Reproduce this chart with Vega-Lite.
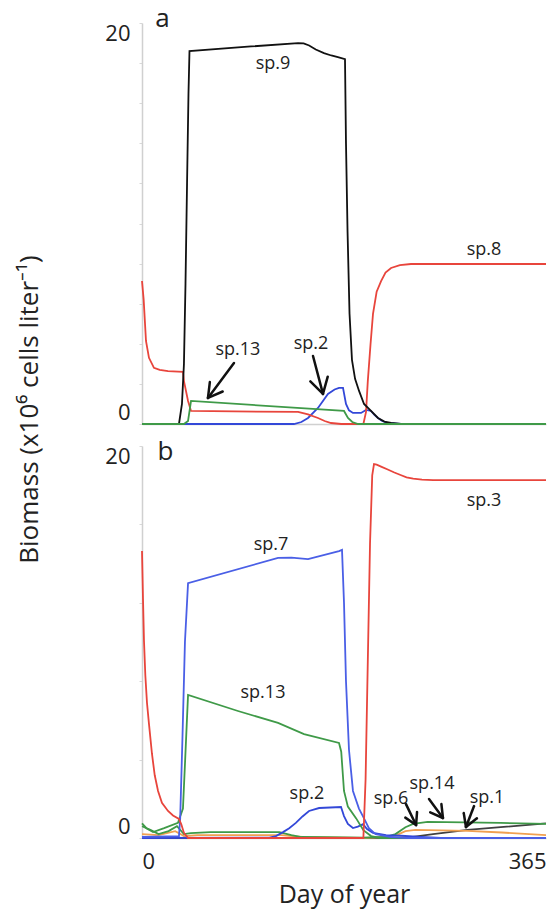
{
  "$schema": "https://vega.github.io/schema/vega-lite/v6.json",
  "padding": {"left": 16, "top": 5, "right": 13, "bottom": 4},
  "bounds": "flush",
  "config": {
    "font": "Open Sans",
    "view": {"stroke": null},
    "axis": {"grid": false, "domainColor": "#d0d0d0", "domainWidth": 1.5, "labelColor": "#222222", "titleColor": "#222222", "titleFontWeight": "normal", "tickColor": "#d9d9d9"},
    "text": {"font": "Open Sans", "color": "#222222"}
  },
  "datasets": {
    "curvesA": [
      {"sp":"sp.2","day":0,"v":0},{"sp":"sp.2","day":137.3,"v":0},{"sp":"sp.2","day":144,"v":0.1},{"sp":"sp.2","day":150,"v":0.3},{"sp":"sp.2","day":159,"v":0.8},{"sp":"sp.2","day":168,"v":1.5},{"sp":"sp.2","day":174,"v":1.72},{"sp":"sp.2","day":178,"v":1.8},{"sp":"sp.2","day":181.6,"v":1.8},{"sp":"sp.2","day":184.3,"v":1.0},{"sp":"sp.2","day":187,"v":0.68},{"sp":"sp.2","day":190.6,"v":0.55},{"sp":"sp.2","day":197.9,"v":0.55},{"sp":"sp.2","day":202.4,"v":0.7},{"sp":"sp.2","day":206.9,"v":0.65},{"sp":"sp.2","day":210,"v":0.45},{"sp":"sp.2","day":213.2,"v":0.3},{"sp":"sp.2","day":217,"v":0.15},{"sp":"sp.2","day":222.3,"v":0.05},{"sp":"sp.2","day":234,"v":0},{"sp":"sp.2","day":365,"v":0},
      {"sp":"sp.8","day":0,"v":7.13},{"sp":"sp.8","day":1.5,"v":6.2},{"sp":"sp.8","day":3.6,"v":4.14},{"sp":"sp.8","day":6.3,"v":3.3},{"sp":"sp.8","day":10.8,"v":2.8},{"sp":"sp.8","day":16,"v":2.7},{"sp":"sp.8","day":23.5,"v":2.64},{"sp":"sp.8","day":37,"v":2.6},{"sp":"sp.8","day":37.9,"v":2.14},{"sp":"sp.8","day":41.6,"v":1.15},{"sp":"sp.8","day":44.3,"v":0.65},{"sp":"sp.8","day":141,"v":0.6},{"sp":"sp.8","day":150,"v":0.48},{"sp":"sp.8","day":159,"v":0.3},{"sp":"sp.8","day":165,"v":0.15},{"sp":"sp.8","day":170.8,"v":0.05},{"sp":"sp.8","day":180,"v":0},{"sp":"sp.8","day":200,"v":0},{"sp":"sp.8","day":202.4,"v":0.6},{"sp":"sp.8","day":204,"v":2.14},{"sp":"sp.8","day":206.5,"v":4.0},{"sp":"sp.8","day":208.7,"v":5.49},{"sp":"sp.8","day":212,"v":6.6},{"sp":"sp.8","day":216,"v":7.13},{"sp":"sp.8","day":220,"v":7.55},{"sp":"sp.8","day":225,"v":7.78},{"sp":"sp.8","day":233,"v":7.92},{"sp":"sp.8","day":243,"v":7.98},{"sp":"sp.8","day":365,"v":7.98},
      {"sp":"sp.9","day":0,"v":0},{"sp":"sp.9","day":33.4,"v":0},{"sp":"sp.9","day":36.1,"v":1.0},{"sp":"sp.9","day":37.9,"v":3.0},{"sp":"sp.9","day":39.3,"v":7},{"sp":"sp.9","day":40.7,"v":12},{"sp":"sp.9","day":42,"v":16.5},{"sp":"sp.9","day":42.9,"v":18.6},{"sp":"sp.9","day":98.5,"v":18.83},{"sp":"sp.9","day":141,"v":19.0},{"sp":"sp.9","day":146,"v":18.98},{"sp":"sp.9","day":151,"v":18.88},{"sp":"sp.9","day":157,"v":18.68},{"sp":"sp.9","day":164.4,"v":18.5},{"sp":"sp.9","day":171,"v":18.38},{"sp":"sp.9","day":177,"v":18.3},{"sp":"sp.9","day":183.4,"v":18.2},{"sp":"sp.9","day":184.3,"v":14},{"sp":"sp.9","day":185.7,"v":9.6},{"sp":"sp.9","day":187.5,"v":5.5},{"sp":"sp.9","day":189.7,"v":3.2},{"sp":"sp.9","day":192.5,"v":2.25},{"sp":"sp.9","day":196.1,"v":1.65},{"sp":"sp.9","day":200.6,"v":1.0},{"sp":"sp.9","day":206.9,"v":0.65},{"sp":"sp.9","day":213.2,"v":0.3},{"sp":"sp.9","day":219,"v":0.12},{"sp":"sp.9","day":225,"v":0.05},{"sp":"sp.9","day":234,"v":0},{"sp":"sp.9","day":365,"v":0},
      {"sp":"sp.13","day":0,"v":0},{"sp":"sp.13","day":37.9,"v":0},{"sp":"sp.13","day":41.6,"v":0.15},{"sp":"sp.13","day":44.3,"v":1.15},{"sp":"sp.13","day":182.5,"v":0.65},{"sp":"sp.13","day":186.1,"v":0.3},{"sp":"sp.13","day":190,"v":0.1},{"sp":"sp.13","day":195.2,"v":0},{"sp":"sp.13","day":365,"v":0}
    ],
    "curvesB": [
      {"sp":"sp.1","day":0,"v":0},{"sp":"sp.1","day":225,"v":0},{"sp":"sp.1","day":243,"v":0.05},{"sp":"sp.1","day":263,"v":0.2},{"sp":"sp.1","day":294,"v":0.41},{"sp":"sp.1","day":324,"v":0.55},{"sp":"sp.1","day":365,"v":0.75},
      {"sp":"sp.6","day":0,"v":0.2},{"sp":"sp.6","day":15,"v":0.15},{"sp":"sp.6","day":30,"v":0.35},{"sp":"sp.6","day":38,"v":0.1},{"sp":"sp.6","day":50,"v":0.15},{"sp":"sp.6","day":126,"v":0.15},{"sp":"sp.6","day":145,"v":0.05},{"sp":"sp.6","day":200,"v":0},{"sp":"sp.6","day":220,"v":0.05},{"sp":"sp.6","day":230,"v":0.15},{"sp":"sp.6","day":238,"v":0.35},{"sp":"sp.6","day":247,"v":0.41},{"sp":"sp.6","day":294,"v":0.36},{"sp":"sp.6","day":325,"v":0.28},{"sp":"sp.6","day":365,"v":0.15},
      {"sp":"sp.14","day":0,"v":0.6},{"sp":"sp.14","day":8,"v":0.4},{"sp":"sp.14","day":15,"v":0.2},{"sp":"sp.14","day":24,"v":0.35},{"sp":"sp.14","day":31.6,"v":0.6},{"sp":"sp.14","day":37.9,"v":0.2},{"sp":"sp.14","day":44,"v":0.25},{"sp":"sp.14","day":62,"v":0.3},{"sp":"sp.14","day":124,"v":0.3},{"sp":"sp.14","day":135,"v":0.15},{"sp":"sp.14","day":144,"v":0.05},{"sp":"sp.14","day":200,"v":0.02},{"sp":"sp.14","day":220,"v":0.05},{"sp":"sp.14","day":229,"v":0.2},{"sp":"sp.14","day":238,"v":0.55},{"sp":"sp.14","day":245,"v":0.72},{"sp":"sp.14","day":258,"v":0.82},{"sp":"sp.14","day":324,"v":0.77},{"sp":"sp.14","day":365,"v":0.72},
      {"sp":"sp.2","day":0,"v":0},{"sp":"sp.2","day":115,"v":0.02},{"sp":"sp.2","day":121,"v":0.1},{"sp":"sp.2","day":127.4,"v":0.3},{"sp":"sp.2","day":133,"v":0.5},{"sp":"sp.2","day":139,"v":0.77},{"sp":"sp.2","day":145,"v":1.1},{"sp":"sp.2","day":150.9,"v":1.38},{"sp":"sp.2","day":160,"v":1.53},{"sp":"sp.2","day":179.8,"v":1.58},{"sp":"sp.2","day":182.5,"v":1.12},{"sp":"sp.2","day":186,"v":0.72},{"sp":"sp.2","day":190.6,"v":0.51},{"sp":"sp.2","day":195,"v":0.58},{"sp":"sp.2","day":199.7,"v":0.71},{"sp":"sp.2","day":203.3,"v":0.46},{"sp":"sp.2","day":208.7,"v":0.26},{"sp":"sp.2","day":220.5,"v":0.15},{"sp":"sp.2","day":234,"v":0.12},{"sp":"sp.2","day":252,"v":0.05},{"sp":"sp.2","day":270,"v":0},{"sp":"sp.2","day":365,"v":0},
      {"sp":"sp.13","day":0,"v":0.75},{"sp":"sp.13","day":4,"v":0.5},{"sp":"sp.13","day":10,"v":0.3},{"sp":"sp.13","day":20,"v":0.5},{"sp":"sp.13","day":32.5,"v":0.77},{"sp":"sp.13","day":37,"v":1.5},{"sp":"sp.13","day":39,"v":4},{"sp":"sp.13","day":41.6,"v":7.3},{"sp":"sp.13","day":86.7,"v":6.48},{"sp":"sp.13","day":122.9,"v":5.87},{"sp":"sp.13","day":146.4,"v":5.3},{"sp":"sp.13","day":178,"v":4.85},{"sp":"sp.13","day":180,"v":4.4},{"sp":"sp.13","day":182.5,"v":2.4},{"sp":"sp.13","day":186,"v":1.6},{"sp":"sp.13","day":193.5,"v":1.0},{"sp":"sp.13","day":200,"v":0.4},{"sp":"sp.13","day":207,"v":0.1},{"sp":"sp.13","day":215,"v":0},{"sp":"sp.13","day":365,"v":0},
      {"sp":"sp.7","day":0,"v":0.05},{"sp":"sp.7","day":33.4,"v":0.1},{"sp":"sp.7","day":34.5,"v":1},{"sp":"sp.7","day":36.5,"v":5},{"sp":"sp.7","day":38.8,"v":10},{"sp":"sp.7","day":41.6,"v":13.0},{"sp":"sp.7","day":122.9,"v":14.29},{"sp":"sp.7","day":135,"v":14.3},{"sp":"sp.7","day":150,"v":14.23},{"sp":"sp.7","day":178,"v":14.64},{"sp":"sp.7","day":180.7,"v":14.7},{"sp":"sp.7","day":182.5,"v":12},{"sp":"sp.7","day":184.3,"v":8},{"sp":"sp.7","day":187,"v":4.5},{"sp":"sp.7","day":190.6,"v":2.4},{"sp":"sp.7","day":196,"v":1.5},{"sp":"sp.7","day":200.6,"v":1.0},{"sp":"sp.7","day":205,"v":0.5},{"sp":"sp.7","day":211,"v":0.2},{"sp":"sp.7","day":225,"v":0.05},{"sp":"sp.7","day":240,"v":0},{"sp":"sp.7","day":365,"v":0},
      {"sp":"sp.3","day":0,"v":14.64},{"sp":"sp.3","day":0.9,"v":12.2},{"sp":"sp.3","day":1.8,"v":10.05},{"sp":"sp.3","day":3,"v":8.3},{"sp":"sp.3","day":4.5,"v":6.9},{"sp":"sp.3","day":6.3,"v":5.82},{"sp":"sp.3","day":9,"v":4.3},{"sp":"sp.3","day":11.5,"v":3.2},{"sp":"sp.3","day":14.5,"v":2.4},{"sp":"sp.3","day":18,"v":1.8},{"sp":"sp.3","day":23.5,"v":1.38},{"sp":"sp.3","day":28,"v":1.15},{"sp":"sp.3","day":33.4,"v":0.97},{"sp":"sp.3","day":35.5,"v":0.7},{"sp":"sp.3","day":37.9,"v":0.26},{"sp":"sp.3","day":41.6,"v":0},{"sp":"sp.3","day":200,"v":0},{"sp":"sp.3","day":202,"v":3},{"sp":"sp.3","day":204,"v":9},{"sp":"sp.3","day":206,"v":15},{"sp":"sp.3","day":208,"v":18.5},{"sp":"sp.3","day":209.6,"v":19.08},{"sp":"sp.3","day":212,"v":19.05},{"sp":"sp.3","day":216,"v":18.95},{"sp":"sp.3","day":222,"v":18.8},{"sp":"sp.3","day":228,"v":18.65},{"sp":"sp.3","day":233.6,"v":18.52},{"sp":"sp.3","day":239,"v":18.4},{"sp":"sp.3","day":245,"v":18.33},{"sp":"sp.3","day":253,"v":18.28},{"sp":"sp.3","day":263,"v":18.26},{"sp":"sp.3","day":365,"v":18.26}
    ],
    "labelsA": [
      {"label":"sp.9","day":118.4,"v":17.96},
      {"label":"sp.13","day":86.7,"v":3.69},
      {"label":"sp.2","day":152.7,"v":3.99},
      {"label":"sp.8","day":309,"v":8.68}
    ],
    "labelsB": [
      {"label":"sp.7","day":116.6,"v":14.95},
      {"label":"sp.13","day":109.3,"v":7.4},
      {"label":"sp.2","day":149,"v":2.24},
      {"label":"sp.3","day":309,"v":17.19},
      {"label":"sp.6","day":225,"v":1.99},
      {"label":"sp.14","day":262,"v":2.76},
      {"label":"sp.1","day":311.7,"v":2.04}
    ],
    "arrowsA": [
      {"x":83.1,"y":3.04,"x2":59.6,"y2":1.30},
      {"x":59.6,"y":1.30,"x2":72.9,"y2":1.62},
      {"x":59.6,"y":1.30,"x2":61.3,"y2":2.09},
      {"x":154.5,"y":3.39,"x2":163.5,"y2":1.50},
      {"x":163.5,"y":1.50,"x2":167.8,"y2":2.36},
      {"x":163.5,"y":1.50,"x2":152.1,"y2":2.13}
    ],
    "arrowsB": [
      {"x":238.5,"y":1.73,"x2":247.6,"y2":0.66},
      {"x":247.6,"y":0.66,"x2":248.5,"y2":1.33},
      {"x":247.6,"y":0.66,"x2":237.9,"y2":1.04},
      {"x":259.3,"y":1.99,"x2":271.9,"y2":1.02},
      {"x":271.9,"y":1.02,"x2":270.5,"y2":1.73},
      {"x":271.9,"y":1.02,"x2":260.4,"y2":1.31},
      {"x":300,"y":1.63,"x2":292.7,"y2":0.56},
      {"x":292.7,"y":0.56,"x2":302.6,"y2":1.01},
      {"x":292.7,"y":0.56,"x2":290.7,"y2":1.27}
    ]
  },
  "spacing": 22,
  "vconcat": [
    {
      "width": 404,
      "height": 401,
      "layer": [
        {
          "data": {"name": "curvesA"},
          "mark": {"type": "line", "strokeWidth": 1.8},
          "encoding": {
            "x": {"field": "day", "type": "quantitative", "scale": {"domain": [0, 365], "nice": false}, "axis": {"labels": false, "ticks": false, "title": null}},
            "y": {"field": "v", "type": "quantitative", "scale": {"domain": [0, 20], "nice": false},
              "axis": {"values": [0,2,4,6,8,10,12,14,16,18,20], "labelExpr": "datum.value == 0 || datum.value == 20 ? datum.label : ''", "labelFlush": true, "tickSize": 3, "labelPadding": 9, "labelFontSize": 22,
                "title": "Biomass (x10⁶ cells liter⁻¹)", "titleFontSize": 26, "titleX": -113, "titleY": 386, "titleBaseline": "middle", "titleAlign": "center", "titleAngle": -90}},
            "color": {"field": "sp", "type": "nominal", "legend": null,
              "scale": {"domain": ["sp.1","sp.2","sp.3","sp.6","sp.7","sp.8","sp.9","sp.13","sp.14"], "range": ["#404040","#3348d8","#e8453c","#f0a050","#4a5fe6","#e8453c","#111111","#3f9a48","#3f9a48"]}},
            "order": {"field": "day", "type": "quantitative"}
          }
        },
        {
          "data": {"name": "labelsA"},
          "mark": {"type": "text", "fontSize": 18, "baseline": "middle", "align": "center"},
          "encoding": {
            "x": {"field": "day", "type": "quantitative"},
            "y": {"field": "v", "type": "quantitative"},
            "text": {"field": "label"}
          }
        },
        {
          "data": {"name": "arrowsA"},
          "mark": {"type": "rule", "strokeWidth": 2.5, "color": "#111111", "strokeCap": "round"},
          "encoding": {
            "x": {"field": "x", "type": "quantitative"},
            "y": {"field": "y", "type": "quantitative"},
            "x2": {"field": "x2"},
            "y2": {"field": "y2"}
          }
        },
        {
          "data": {"values": [{"panel": "a", "day": 18.5, "v": 20.2}]},
          "mark": {"type": "text", "fontSize": 26, "baseline": "middle", "align": "center"},
          "encoding": {
            "x": {"field": "day", "type": "quantitative"},
            "y": {"field": "v", "type": "quantitative"},
            "text": {"field": "panel"}
          }
        }
      ]
    },
    {
      "width": 404,
      "height": 392,
      "layer": [
        {
          "data": {"name": "curvesB"},
          "mark": {"type": "line", "strokeWidth": 1.8},
          "encoding": {
            "x": {"field": "day", "type": "quantitative", "scale": {"domain": [0, 365], "nice": false},
              "axis": {"values": [0, 365], "labelFlush": true, "ticks": false, "labelPadding": 13, "labelFontSize": 22, "title": "Day of year", "titleFontSize": 25, "titlePadding": 10}},
            "y": {"field": "v", "type": "quantitative", "scale": {"domain": [0, 20], "nice": false},
              "axis": {"values": [0,2,4,6,8,10,12,14,16,18,20], "labelExpr": "datum.value == 0 || datum.value == 20 ? datum.label : ''", "labelFlush": true, "tickSize": 3, "labelPadding": 9, "labelFontSize": 22, "title": null}},
            "color": {"field": "sp", "type": "nominal", "legend": null},
            "order": {"field": "day", "type": "quantitative"}
          }
        },
        {
          "data": {"name": "labelsB"},
          "mark": {"type": "text", "fontSize": 18, "baseline": "middle", "align": "center"},
          "encoding": {
            "x": {"field": "day", "type": "quantitative"},
            "y": {"field": "v", "type": "quantitative"},
            "text": {"field": "label"}
          }
        },
        {
          "data": {"name": "arrowsB"},
          "mark": {"type": "rule", "strokeWidth": 2.5, "color": "#111111", "strokeCap": "round"},
          "encoding": {
            "x": {"field": "x", "type": "quantitative"},
            "y": {"field": "y", "type": "quantitative"},
            "x2": {"field": "x2"},
            "y2": {"field": "y2"}
          }
        },
        {
          "data": {"values": [{"panel": "b", "day": 21.2, "v": 19.69}]},
          "mark": {"type": "text", "fontSize": 26, "baseline": "middle", "align": "center"},
          "encoding": {
            "x": {"field": "day", "type": "quantitative"},
            "y": {"field": "v", "type": "quantitative"},
            "text": {"field": "panel"}
          }
        }
      ]
    }
  ]
}
